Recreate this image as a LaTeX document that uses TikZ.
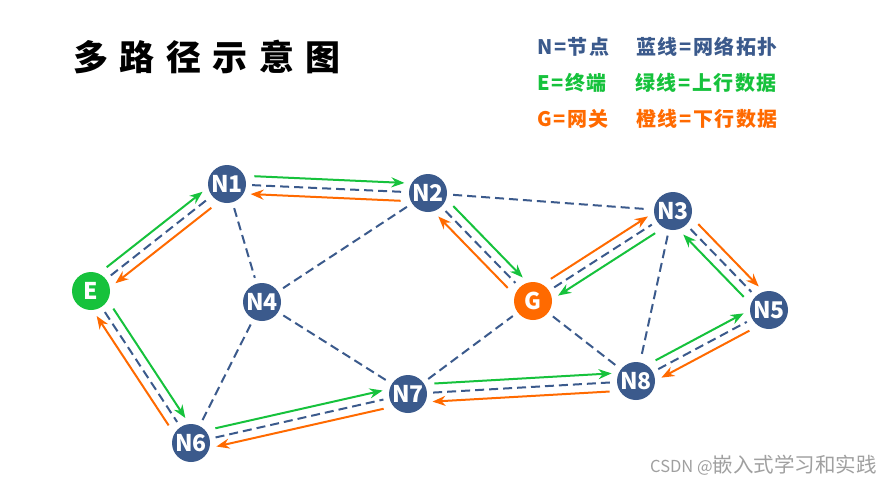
\documentclass[tikz,border=0pt]{standalone}
\usepackage{fontspec}
\setmainfont{Noto Sans CJK SC}
\newfontfamily\legfont[LetterSpace=8]{Noto Sans CJK SC}
\newfontfamily\ttlfont[LetterSpace=33]{Noto Sans CJK SC}
\usetikzlibrary{calc,arrows.meta}
\definecolor{nblue}{HTML}{3B5A8C}
\definecolor{ngreen}{HTML}{16C23C}
\definecolor{norange}{HTML}{FF6A00}
\definecolor{wmgray}{HTML}{A0A0A0}
\newcommand{\flowline}[3]{\draw[#1] ($(#2)!27pt!(#3)!9pt!90:(#3)$) -- ($(#3)!24pt!(#2)!9pt!-90:(#2)$);}
\begin{document}
\begin{tikzpicture}[x=1pt,y=-1pt,
  nd/.style={circle,fill=nblue,minimum size=38pt,inner sep=0pt,text=white,font=\fontsize{23}{23}\selectfont\bfseries},
  dline/.style={draw=nblue,line width=2pt,dash pattern=on 9pt off 5pt,shorten <=6pt,shorten >=6pt},
  up/.style={draw=ngreen,line width=2pt,-{Stealth[length=13pt,width=10pt]}},
  down/.style={draw=norange,line width=2pt,-{Stealth[length=13pt,width=10pt]}},
  leg/.style={anchor=west,inner sep=0pt,font=\fontsize{20}{20}\legfont\bfseries}]
\useasboundingbox[fill=white] (0,0) rectangle (893,485);
% title
\node[anchor=west,inner sep=0pt,font=\fontsize{35}{35}\ttlfont\bfseries] (title) at (73,57) {多路径示意图};
% legend
\node[leg,text=nblue] (l1) at (537,47) {N=节点};
\node[leg,text=nblue] (l2) at (636,47) {蓝线=网络拓扑};
\node[leg,text=ngreen] (l3) at (537,83) {E=终端};
\node[leg,text=ngreen] (l4) at (635,83) {绿线=上行数据};
\node[leg,text=norange] (l5) at (537,119) {G=网关};
\node[leg,text=norange] (l6) at (636,119) {橙线=下行数据};
% nodes
\node[nd] (N1) at (227,184) {N1};
\node[nd] (N2) at (428,193) {N2};
\node[nd] (N3) at (673,211) {N3};
\node[nd,fill=ngreen] (E) at (91,291) {E};
\node[nd] (N4) at (262,302) {N4};
\node[nd,fill=norange] (G) at (533,301) {G};
\node[nd] (N5) at (769,310) {N5};
\node[nd] (N7) at (408,394) {N7};
\node[nd] (N8) at (636,381) {N8};
\node[nd] (N6) at (191,443) {N6};
% topology
\draw[dline] (E) -- (N1);
\draw[dline] (E) -- (N6);
\draw[dline] (N1) -- (N2);
\draw[dline] (N1) -- (N4);
\draw[dline] (N2) -- (N4);
\draw[dline] (N2) -- (N3);
\draw[dline] (N2) -- (G);
\draw[dline] (G) -- (N3);
\draw[dline] (N3) -- (N8);
\draw[dline] (N3) -- (N5);
\draw[dline] (N4) -- (N7);
\draw[dline] (N4) -- (N6);
\draw[dline] (N6) -- (N7);
\draw[dline] (N7) -- (G);
\draw[dline] (N7) -- (N8);
\draw[dline] (G) -- (N8);
\draw[dline] (N8) -- (N5);
% upstream (green)
\flowline{up}{E}{N1}
\flowline{up}{E}{N6}
\flowline{up}{N1}{N2}
\flowline{up}{N2}{G}
\flowline{up}{N3}{G}
\flowline{up}{N6}{N7}
\flowline{up}{N7}{N8}
\flowline{up}{N8}{N5}
\flowline{up}{N5}{N3}
% downstream (orange)
\flowline{down}{N1}{E}
\flowline{down}{N6}{E}
\flowline{down}{N2}{N1}
\flowline{down}{G}{N2}
\flowline{down}{G}{N3}
\flowline{down}{N7}{N6}
\flowline{down}{N8}{N7}
\flowline{down}{N5}{N8}
\flowline{down}{N3}{N5}
% watermark
\node[anchor=west,inner sep=0pt,text=wmgray,font=\fontsize{16.5}{16.5}\selectfont] (wm) at (650,465) {CSDN @{\fontsize{20.5}{20.5}\selectfont 嵌入式学习和实践}};
\end{tikzpicture}
\end{document}
